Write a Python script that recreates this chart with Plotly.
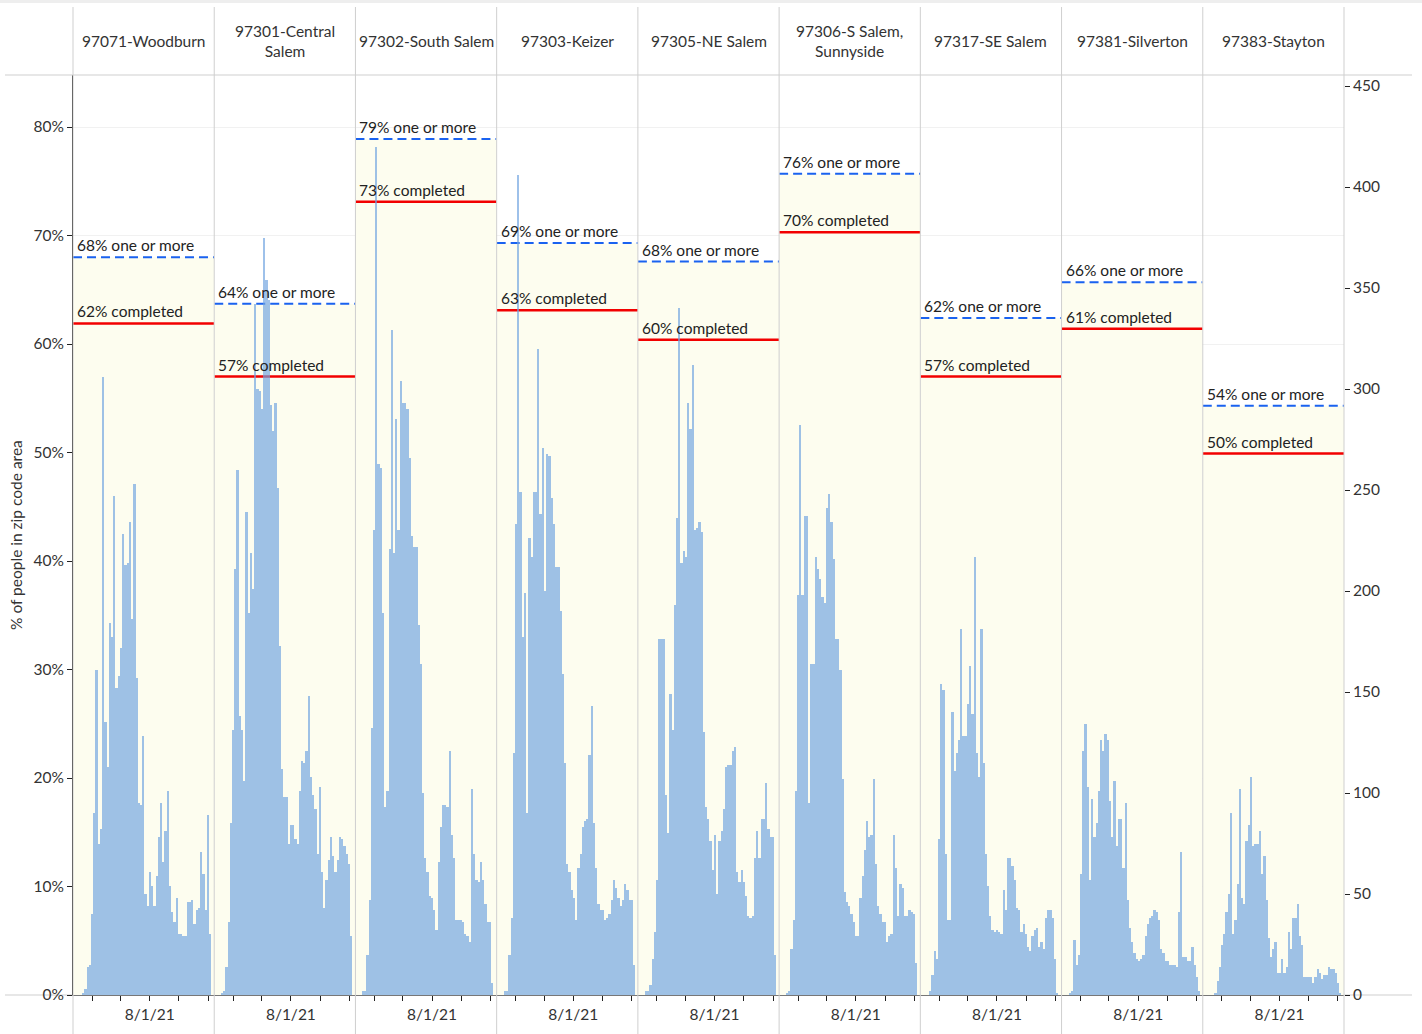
import plotly.graph_objects as go
import pandas as pd

# ---------------- data ----------------
zip_areas = ["97071-Woodburn", "97301-Central<br>Salem", "97302-South Salem", "97303-Keizer",
             "97305-NE Salem", "97306-S Salem,<br>Sunnyside", "97317-SE Salem",
             "97381-Silverton", "97383-Stayton"]
pct_one_or_more = [68.0, 63.7, 78.9, 69.3, 67.6, 75.7, 62.4, 65.7, 54.3]
pct_completed = [61.9, 57.0, 73.1, 63.1, 60.4, 70.3, 57.0, 61.4, 49.9]

first_week = "2020-12-14"   # weekly samples of daily doses
doses_97071 = [0,0,0,1,3,14,15,40,90,161,75,82,306,135,113,184,177,247,152,158,172,228,213,214,234,186,253,157,95,94,
               128,50,44,61,54,44,59,78,95,66,81,101,54,41,36,48,30,30,29,29,46,46,47,35,42,43,71,60,42,89,30]
doses_97301 = [0,0,1,2,14,36,85,131,211,260,138,131,106,239,189,219,201,342,300,299,290,375,354,344,292,279,293,251,173,112,
               98,98,75,84,84,77,75,101,116,115,121,148,108,99,92,70,103,61,43,57,67,78,69,61,67,78,77,74,70,65,29]
doses_97302 = [0,0,2,2,20,47,132,230,420,263,261,189,93,101,221,329,219,285,230,304,293,293,290,266,227,222,222,183,164,100,
               68,61,49,48,42,32,66,83,94,94,93,121,79,68,37,37,37,36,30,29,26,102,70,57,56,66,57,45,36,36,6]
doses_97303 = [0,0,2,2,20,38,120,233,406,249,177,199,90,226,217,249,249,320,238,271,200,268,267,246,233,212,212,190,159,115,
               65,61,52,48,37,63,70,83,86,87,119,143,85,63,45,42,42,37,38,40,47,57,53,48,44,47,55,52,47,47,15]
doses_97305 = [0,0,2,2,5,18,31,57,176,176,176,99,80,149,131,193,236,340,214,220,217,293,280,312,230,231,234,229,130,93,
               87,76,62,79,50,76,81,92,113,114,114,121,123,61,56,62,56,49,39,38,39,68,81,68,87,87,105,82,78,78,20]
doses_97306 = [0,0,1,2,23,37,101,198,282,198,237,237,95,164,164,217,211,206,197,194,241,248,234,216,176,176,161,107,51,46,
               44,40,36,29,29,48,59,72,86,78,79,107,65,44,40,36,36,26,29,30,79,63,39,55,53,39,39,42,41,40,16]
doses_97317 = [0,0,0,2,10,22,18,77,154,151,70,37,37,140,111,120,126,181,128,128,144,163,139,217,120,108,181,115,70,54,
               39,32,31,32,31,30,52,42,68,68,64,57,43,42,31,35,30,24,22,29,32,33,24,26,23,38,42,42,38,18,1]
doses_97381 = [0,0,1,2,27,15,20,60,121,134,103,57,97,78,85,101,126,121,129,126,96,78,106,74,87,87,63,95,47,33,
               26,21,18,17,18,20,29,35,38,39,42,41,37,23,21,17,17,15,15,15,14,41,71,19,19,17,17,24,15,9,2]
doses_97383 = [0,0,0,0,1,7,14,25,30,41,50,90,30,37,55,102,48,45,76,84,108,74,75,75,81,60,69,47,28,19,
               23,26,11,11,18,11,14,31,23,38,38,45,29,25,9,9,9,9,6,9,13,11,8,10,10,14,13,13,11,6,1]
doses = [doses_97071, doses_97301, doses_97302, doses_97303, doses_97305,
         doses_97306, doses_97317, doses_97381, doses_97383]

date_ticks = ["2021-02-01", "2021-05-01", "2021-08-01", "2021-11-01", "2022-02-01"]
date_tick_text = ["", "", "8/1/21", "", ""]
pct_ticks = [0, 10, 20, 30, 40, 50, 60, 70, 80]
count_ticks = [0, 50, 100, 150, 200, 250, 300, 350, 400, 450]

# ---------------- layout constants ----------------
W, H = 1422, 1034
ML, MR, MT, MB = 73, 78, 75, 39
PW, PH = W - ML - MR, H - MT - MB
X_RANGE = ["2020-12-03", "2022-02-20"]
FONT = "Lato, 'Open Sans', sans-serif"
TXT = "#333333"
FS = 15.5
BAR = "rgba(112,164,224,0.68)"
FILL = "#FDFDEF"
n = len(zip_areas)


def xp(px):
    return (px - ML) / PW


def yp(py):
    return (H - MB - py) / PH


fig = go.Figure()
layout = dict(
    width=W, height=H,
    margin=dict(l=ML, r=MR, t=MT, b=MB, pad=0, autoexpand=False),
    paper_bgcolor="white", plot_bgcolor="white",
    showlegend=False, bargap=0,
    font=dict(family=FONT, size=FS, color=TXT),
)

annotations = []
shapes = []
for i in range(n):
    xa = f"x{i + 1}" if i else "x"
    xname = f"xaxis{i + 1}" if i else "xaxis"
    dates = pd.date_range(first_week, periods=len(doses[i]), freq="7D")

    # light yellow area up to the "one or more" share
    fig.add_trace(go.Scatter(x=X_RANGE, y=[pct_one_or_more[i]] * 2, mode="lines",
                             line=dict(width=0), fill="tozeroy", fillcolor=FILL,
                             xaxis=xa, yaxis="y", hoverinfo="skip"))
    fig.add_trace(go.Scatter(x=X_RANGE, y=[pct_one_or_more[i]] * 2, mode="lines",
                             line=dict(color="#1A62F0", width=2, dash="9px,5px"),
                             xaxis=xa, yaxis="y", hoverinfo="skip"))
    fig.add_trace(go.Scatter(x=X_RANGE, y=[pct_completed[i]] * 2, mode="lines",
                             line=dict(color="#F20000", width=2.5),
                             xaxis=xa, yaxis="y", hoverinfo="skip"))
    # daily doses bars (right axis)
    fig.add_trace(go.Bar(x=dates, y=doses[i], width=7 * 86400000,
                         marker=dict(color=BAR, line=dict(width=0)),
                         xaxis=xa, yaxis="y2"))

    layout[xname] = dict(
        domain=[i / n, (i + 1) / n], anchor="y", type="date", range=X_RANGE,
        tickvals=date_ticks, ticktext=date_tick_text, ticks="outside", ticklen=5,
        tickcolor="#222", tickfont=dict(size=FS, color=TXT), automargin=False,
        showgrid=False, zeroline=False, showline=True, linecolor="#777", linewidth=1,
    )

    annotations.append(dict(text=f"{pct_one_or_more[i]:.0f}% one or more", xref=f"{xa} domain", x=0,
                            xanchor="left", xshift=2, yref="y", y=pct_one_or_more[i], yanchor="bottom",
                            yshift=1, showarrow=False, font=dict(size=FS, color="#222")))
    annotations.append(dict(text=f"{pct_completed[i]:.0f}% completed", xref=f"{xa} domain", x=0,
                            xanchor="left", xshift=2, yref="y", y=pct_completed[i], yanchor="bottom",
                            yshift=1, showarrow=False, font=dict(size=FS, color="#222")))
    annotations.append(dict(text=zip_areas[i], xref=f"{xa} domain", x=0.5, xanchor="center",
                            yref="paper", y=yp(41), yanchor="middle", showarrow=False,
                            font=dict(size=FS, color=TXT)))

layout["yaxis"] = dict(
    domain=[0, 1], anchor="x", range=[0, (H - MB - MT) / 10.85],
    tickvals=pct_ticks, ticktext=[f"{t}%" for t in pct_ticks],
    ticks="outside", ticklen=5, tickcolor="#222", tickfont=dict(size=FS, color=TXT),
    showline=True, linecolor="black", linewidth=1, automargin=False,
    showgrid=True, gridcolor="#F1F1F1", gridwidth=1, zeroline=False,
)
layout["yaxis2"] = dict(
    overlaying="y", anchor="x9", side="right", range=[0, (H - MB - MT) / 2.02],
    tickvals=count_ticks, ticks="outside", ticklen=5, tickcolor="#222", automargin=False,
    tickfont=dict(size=FS, color=TXT), showgrid=False, zeroline=False, showline=False,
)

annotations.append(dict(text="% of people in zip code area", textangle=-90, xref="paper",
                        x=xp(16), xanchor="center", yref="paper", y=0.5, yanchor="middle",
                        showarrow=False, font=dict(size=FS, color=TXT)))

line_col = "#CFCFCF"
shapes.append(dict(type="rect", xref="paper", yref="paper", x0=xp(0), x1=xp(W), y0=yp(0), y1=yp(3),
                   fillcolor="#EEEEEE", line=dict(width=0), layer="above"))
shapes.append(dict(type="line", xref="paper", yref="paper", x0=xp(5), x1=xp(1412), y0=1, y1=1,
                   line=dict(color=line_col, width=1), layer="above"))
shapes.append(dict(type="line", xref="paper", yref="paper", x0=xp(5), x1=xp(1412), y0=0, y1=0,
                   line=dict(color=line_col, width=1), layer="below"))
for i in range(n + 1):
    shapes.append(dict(type="line", xref="paper", yref="paper", x0=i / n, x1=i / n,
                       y0=yp(H), y1=yp(7), line=dict(color=line_col, width=1), layer="above"))

layout["annotations"] = annotations
layout["shapes"] = shapes
fig.update_layout(**layout)

fig.write_html("out.html", config={"displayModeBar": False},
               post_script="document.body.style.margin='0px';")
